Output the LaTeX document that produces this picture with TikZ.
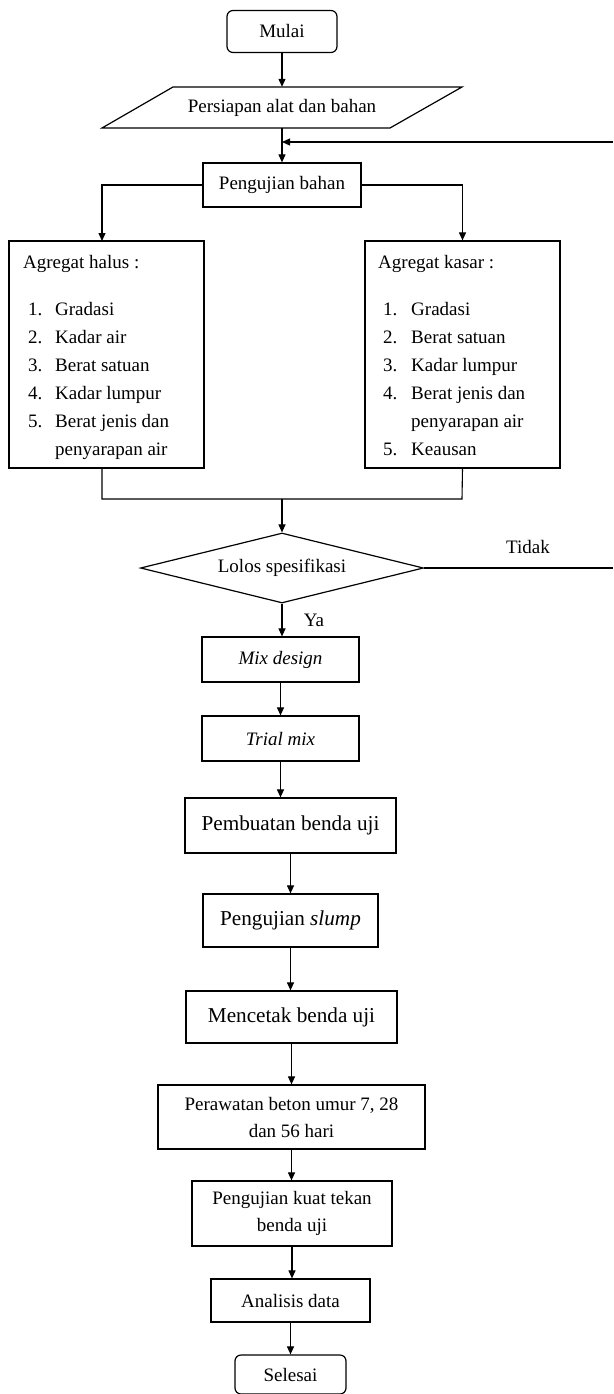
\documentclass[tikz,border=0pt]{standalone}
\usepackage{fontspec}
\setmainfont{Liberation Serif}
\usetikzlibrary{arrows.meta,shapes.geometric}
\begin{document}
\begin{tikzpicture}[x=1pt,y=-1pt,
  txt/.style={inner sep=0pt,font=\fontsize{19}{27}\selectfont},
  proc/.style={draw,line width=1.2pt,inner sep=0pt,align=center,font=\fontsize{19}{27}\selectfont},
  bigproc/.style={proc,font=\fontsize{21.2}{27}\selectfont},
  term/.style={proc,rounded corners=6pt},
  arr/.style={line width=1.1pt,-{Triangle[length=8pt,width=7pt]}},
  ln/.style={line width=1.1pt},
  outline/.style={line width=1.2pt}
]
\useasboundingbox (0,0) rectangle (613,1394);
\fill[white] (0,0) rectangle (613,1394);

% start
\node[term,minimum width=110pt,minimum height=42pt] (mulai) at (282,31.5) {Mulai};

% parallelogram
\draw[outline] (173,87) -- (462,87) -- (390,128) -- (102,128) -- cycle;
\node[txt,minimum height=41pt] (persiapan) at (282,107.5) {Persiapan alat dan bahan};

\node[proc,minimum width=158pt,minimum height=44pt] (peng) at (282,185) {Pengujian bahan};

% material boxes
\node[proc,minimum width=195pt,minimum height=227pt] (halus) at (106.5,354.5) {};
\node[proc,minimum width=195pt,minimum height=227pt] (kasar) at (462.5,354.5) {};

\node[txt,anchor=base west] (hT) at (23,268) {Agregat halus :};
\node[txt,anchor=base west] (h1n) at (28,315) {1.};
\node[txt,anchor=base west] (h1) at (55,315) {Gradasi};
\node[txt,anchor=base west] (h2n) at (28,343) {2.};
\node[txt,anchor=base west] (h2) at (55,343) {Kadar air};
\node[txt,anchor=base west] (h3n) at (28,371) {3.};
\node[txt,anchor=base west] (h3) at (55,371) {Berat satuan};
\node[txt,anchor=base west] (h4n) at (28,399) {4.};
\node[txt,anchor=base west] (h4) at (55,399) {Kadar lumpur};
\node[txt,anchor=base west] (h5n) at (28,427) {5.};
\node[txt,anchor=base west] (h5) at (55,427) {Berat jenis dan};
\node[txt,anchor=base west] (h5b) at (55,455) {penyarapan air};

\node[txt,anchor=base west] (kT) at (378,268) {Agregat kasar :};
\node[txt,anchor=base west] (k1n) at (383,315) {1.};
\node[txt,anchor=base west] (k1) at (411,315) {Gradasi};
\node[txt,anchor=base west] (k2n) at (383,343) {2.};
\node[txt,anchor=base west] (k2) at (411,343) {Berat satuan};
\node[txt,anchor=base west] (k3n) at (383,371) {3.};
\node[txt,anchor=base west] (k3) at (411,371) {Kadar lumpur};
\node[txt,anchor=base west] (k4n) at (383,399) {4.};
\node[txt,anchor=base west] (k4) at (411,399) {Berat jenis dan};
\node[txt,anchor=base west] (k4b) at (411,427) {penyarapan air};
\node[txt,anchor=base west] (k5n) at (383,455) {5.};
\node[txt,anchor=base west] (k5) at (411,455) {Keausan};

% decision
\node[draw,shape=diamond,shape aspect=4,minimum width=283pt,minimum height=70pt,inner sep=0pt,line width=1.2pt,font=\fontsize{19}{27}\selectfont] (dec) at (282,568) {Lolos spesifikasi};
\node[txt] (tidak) at (528,547) {Tidak};
\node[txt] (ya) at (314,620) {Ya};

\node[proc,minimum width=157pt,minimum height=45pt] (mix) at (280.5,659.5) {\textit{Mix design}};
\node[proc,minimum width=157pt,minimum height=45pt] (trial) at (280.5,738.5) {\textit{Trial mix}};
\node[bigproc,minimum width=211pt,minimum height=55pt] (pemb) at (290.5,825.5) {Pembuatan benda uji};
\node[bigproc,minimum width=175pt,minimum height=53pt] (slump) at (290.5,920.5) {Pengujian \textit{slump}};
\node[bigproc,minimum width=211pt,minimum height=52pt] (cetak) at (291.5,1017) {Mencetak benda uji};
\node[proc,minimum width=267pt,minimum height=64pt] (rawat) at (291.5,1117) {Perawatan beton umur 7, 28\\dan 56 hari};
\node[proc,minimum width=200pt,minimum height=65pt] (kuat) at (292,1213.5) {Pengujian kuat tekan\\benda uji};
\node[proc,minimum width=159pt,minimum height=43pt] (anal) at (290.5,1300.5) {Analisis data};
\node[term,minimum width=111pt,minimum height=39pt] (selesai) at (290.5,1374.5) {Selesai};

% coordinates
\coordinate (fbR) at (613,142);
\coordinate (fbJ) at (282,142);
\coordinate (tdR) at (613,568);
\coordinate (hIn) at (102,241);
\coordinate (hOut) at (102,468);
\coordinate (jL) at (102,499);
\coordinate (jR) at (462,499);
\coordinate (jC) at (282,499);

% connectors
\draw[arr] (mulai.south) -- (persiapan.north);
\draw[arr] (persiapan.south) -- (peng.north);
\draw[arr] (fbR) -- (fbJ);
\draw[arr] (peng.west) -| (hIn);
\draw[arr] (peng.east) -| (kasar.north);
\draw[ln] (hOut) -- (jL) -- (jR) -- (kasar.south);
\draw[arr] (jC) -- (dec.north);
\draw[ln] (dec.east) -- (tdR);
\draw[arr] (dec.south) -- (dec.south |- mix.north);
\draw[arr] (mix.south) -- (trial.north);
\draw[arr] (trial.south) -- (trial.south |- pemb.north);
\draw[arr] (pemb.south) -- (slump.north);
\draw[arr] (slump.south) -- (slump.south |- cetak.north);
\draw[arr] (cetak.south) -- (rawat.north);
\draw[arr] (rawat.south) -- (rawat.south |- kuat.north);
\draw[arr] (kuat.south) -- (kuat.south |- anal.north);
\draw[arr] (anal.south) -- (anal.south |- selesai.north);
\end{tikzpicture}
\end{document}
